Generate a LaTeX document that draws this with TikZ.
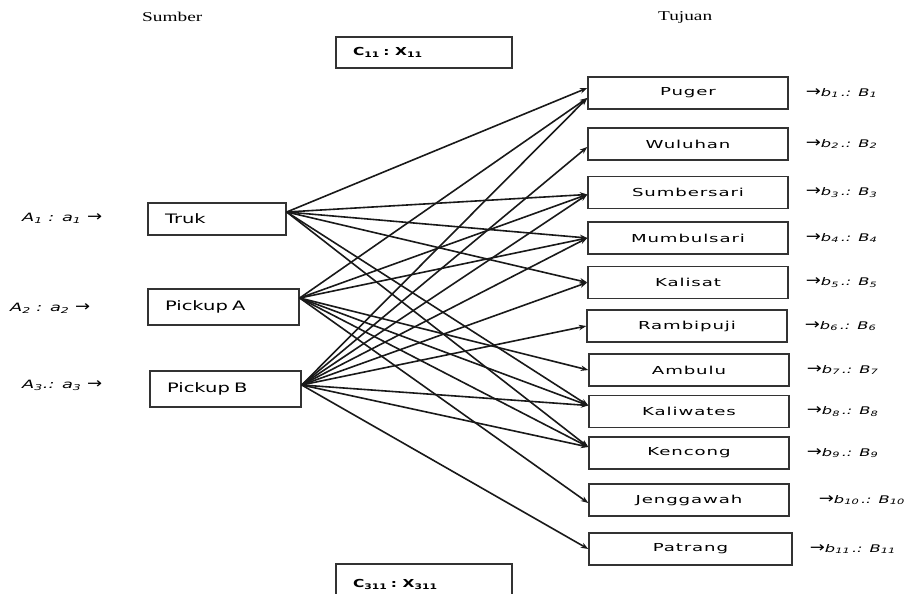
\documentclass[tikz,border=0pt]{standalone}
\usepackage{fontspec}
\usetikzlibrary{arrows.meta}

% Wide-set faces for headings, box captions and the supply/demand labels
\newfontfamily\titlefont[FakeStretch=1.43]{Liberation Serif}
\newfontfamily\srcfont[FakeStretch=1.5]{DejaVu Sans}
\newfontfamily\dstfont[FakeStretch=1.65,LetterSpace=8]{DejaVu Sans}
\newfontfamily\lblfont[FakeStretch=1.55]{DejaVu Sans}
\newfontfamily\arrfont[FakeStretch=1.2]{DejaVu Sans}
\newfontfamily\costfont[FakeStretch=1.4]{DejaVu Sans}

% a larger arrow glyph inside the supply/demand labels
\newcommand{\bigarr}{{\upshape\arrfont\fontsize{15}{15}\selectfont →}}

\tikzset{
  boxline/.style={draw=black!80, line width=1.4pt},
  srcbox/.style={boxline, inner xsep=17pt, inner ysep=0pt, align=left,
    font=\srcfont\fontsize{13}{15}\selectfont},
  dstbox/.style={boxline, minimum width=200pt, minimum height=32pt, inner sep=0pt,
    font=\dstfont\fontsize{11}{13}\selectfont},
  costbox/.style={boxline, minimum width=176pt, inner xsep=17pt, inner ysep=0pt,
    text width=142pt, align=left, font=\costfont\bfseries\fontsize{11}{13}\selectfont},
  heading/.style={inner sep=0pt, font=\titlefont\fontsize{13.5}{15}\selectfont},
  supply/.style={inner sep=0pt, anchor=west, font=\lblfont\itshape\fontsize{11.5}{14}\selectfont},
  demand/.style={inner sep=0pt, anchor=west, font=\lblfont\fontsize{10.5}{13}\selectfont},
  link/.style={draw=black!90, line width=1.6pt, -{Stealth[length=7.5pt,width=5.5pt]}}
}

\begin{document}
\begin{tikzpicture}[x=1pt,y=-1pt]
\useasboundingbox (0,0) rectangle (918,594);
\clip (0,0) rectangle (918,594);
\fill[white] (0,0) rectangle (918,594);

% column headings
\node[heading, anchor=west] (hsrc) at (142,17) {Sumber};
\node[heading, anchor=west] (hdst) at (658,17) {Tujuan};

% cost / allocation boxes
\node[costbox, minimum height=31pt] (ctop) at (424,52.5) {C\textsubscript{11} : X\textsubscript{11}};
\node[costbox, minimum height=40pt] (cbot) at (424,584) {C\textsubscript{311} : X\textsubscript{311}};

% sources
\node[srcbox, text width=104pt, minimum height=32pt] (truk) at (217,219) {Truk};
\node[srcbox, text width=117pt, minimum height=36pt] (pka) at (223.5,307) {Pickup A};
\node[srcbox, text width=117pt, minimum height=36pt] (pkb) at (225.5,389) {Pickup B};

% supply labels
\node[supply] (sa) at (22,218) {A\textsubscript{1} : a\textsubscript{1} \bigarr};
\node[supply] (sb) at (10,308) {A\textsubscript{2} : a\textsubscript{2} \bigarr};
\node[supply] (sc) at (22,385) {A\textsubscript{3}.: a\textsubscript{3} \bigarr};

% destinations
\node[dstbox] (d1)  at (688,93)    {Puger};
\node[dstbox] (d2)  at (688,144)   {Wuluhan};
\node[dstbox] (d3)  at (688,192.5) {Sumbersari};
\node[dstbox] (d4)  at (688,238)   {Mumbulsari};
\node[dstbox] (d5)  at (688,282.5) {Kalisat};
\node[dstbox] (d6)  at (687,326)   {Rambipuji};
\node[dstbox] (d7)  at (689,370)   {Ambulu};
\node[dstbox] (d8)  at (689,411.5) {Kaliwates};
\node[dstbox] (d9)  at (689,453)   {Kencong};
\node[dstbox] (d10) at (689,500)   {Jenggawah};
\node[dstbox, minimum width=203pt] (d11) at (690.5,549) {Patrang};

% demand labels
\foreach \k/\dx in {1/17,2/17,3/17,4/17,5/17,6/17,7/17,8/17,9/17,10/29,11/17}{
  \node[demand] (b\k) at ([xshift=\dx pt]d\k.east)
    {\bigarr\itshape b\textsubscript{\k}\,.: B\textsubscript{\k}};
}

% routes from Truk
\foreach \d/\s in {d1/5, d3/-2, d4/0, d5/0, d8/6, d9/6}
  \draw[link] ([yshift=7pt]truk.east) -- ([yshift=\s pt]\d.west);

% routes from Pickup A
\foreach \d/\s in {d1/-5, d3/-2, d4/0, d7/0, d8/6, d9/6, d10/-3}
  \draw[link] ([yshift=9pt]pka.east) -- ([yshift=\s pt]\d.west);

% routes from Pickup B
\foreach \d/\s in {d1/-5, d2/-3, d3/-2, d4/0, d5/0, d6/0, d8/6, d9/6, d11/0}
  \draw[link] ([yshift=4pt]pkb.east) -- ([yshift=\s pt]\d.west);
\end{tikzpicture}
\end{document}
